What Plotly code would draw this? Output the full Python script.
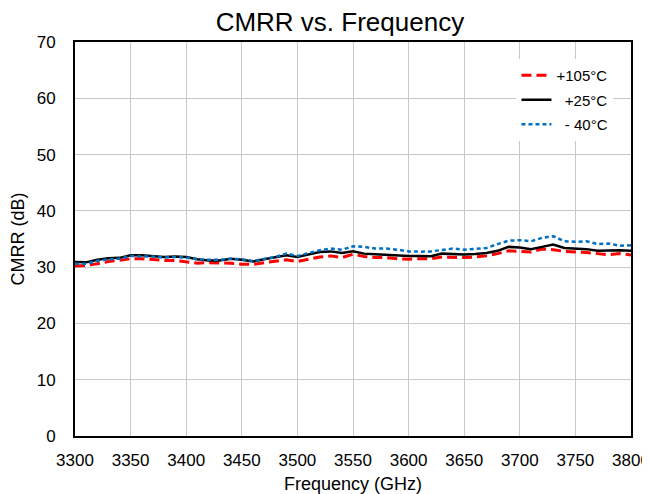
import plotly.graph_objects as go

freq = list(range(3300, 3801, 10))

cmrr_105 = [30.2, 30.3, 30.6, 31.0, 31.2, 31.5, 31.5, 31.3, 31.2, 31.2,
            31.0, 30.7, 30.8, 30.8, 30.7, 30.5, 30.5, 30.8, 31.1, 31.3,
            31.0, 31.4, 31.8, 32.0, 31.7, 32.3, 31.9, 31.7, 31.7, 31.5,
            31.4, 31.5, 31.5, 31.8, 31.7, 31.7, 31.8, 32.0, 32.4, 32.9,
            32.8, 32.7, 33.2, 33.1, 32.8, 32.75, 32.6, 32.4, 32.2, 32.4,
            32.15]
cmrr_25 = [30.9, 30.85, 31.3, 31.6, 31.65, 32.1, 32.1, 32.0, 31.8, 31.9,
           31.8, 31.4, 31.2, 31.2, 31.5, 31.3, 31.0, 31.4, 31.7, 32.1,
           31.8, 32.3, 32.7, 32.8, 32.5, 32.8, 32.4, 32.3, 32.2, 32.0,
           32.0, 32.0, 31.95, 32.4, 32.3, 32.25, 32.35, 32.5, 32.9, 33.6,
           33.5, 33.2, 33.6, 34.0, 33.4, 33.3, 33.2, 32.9, 33.0, 33.0,
           32.9]
cmrr_m40 = [30.6, 30.6, 31.1, 31.4, 31.5, 32.0, 31.9, 31.9, 31.7, 31.8,
            31.7, 31.4, 31.3, 31.3, 31.5, 31.4, 31.1, 31.5, 31.8, 32.4,
            32.0, 32.5, 33.0, 33.3, 33.1, 33.7, 33.6, 33.3, 33.3, 33.1,
            32.8, 32.75, 32.8, 33.05, 33.3, 33.1, 33.2, 33.4, 34.1, 34.7,
            34.8, 34.6, 35.2, 35.5, 34.6, 34.5, 34.6, 34.1, 34.2, 33.8,
            33.9]

x_ticks = list(range(3300, 3801, 50))
y_ticks = list(range(0, 71, 10))

FONT = "Liberation Sans, Arial, sans-serif"

fig = go.Figure()
fig.add_trace(go.Scatter(x=freq, y=cmrr_105, mode="lines", name="+105°C",
                         legendgroup="a",
                         line=dict(color="#ff0000", width=3, dash="10px,5px")))
fig.add_trace(go.Scatter(x=freq, y=cmrr_25, mode="lines", name="&nbsp;&nbsp;+25°C",
                         legendgroup="b",
                         line=dict(color="#000000", width=2.5)))
fig.add_trace(go.Scatter(x=freq, y=cmrr_m40, mode="lines", name="&nbsp;&nbsp;- 40°C",
                         legendgroup="c",
                         line=dict(color="#0070c0", width=2.5, dash="4px,3px")))

# The page body adds an 8px margin, so the figure is 8px smaller and shifted.
fig.update_layout(
    width=642, height=486,
    margin=dict(l=67, r=19, t=34, b=58, autoexpand=False),
    paper_bgcolor="white", plot_bgcolor="white",
    font=dict(family=FONT, color="#000000"),
    title=dict(text="CMRR vs. Frequency", x=0.517, xanchor="center", xref="container",
               y=0.971, yanchor="middle", yref="container", font=dict(size=26),
               automargin=False),
    showlegend=True,
    legend=dict(x=0.794, y=0.957, xanchor="left", yanchor="top",
                bgcolor="white", borderwidth=0, font=dict(size=15),
                itemwidth=30, tracegroupgap=2),
    xaxis=dict(range=[3300, 3800], tickvals=x_ticks, ticktext=[str(v) for v in x_ticks],
               showgrid=True, gridcolor="#c8c8c8", gridwidth=1,
               showline=True, linecolor="black", linewidth=2, mirror=True,
               ticks="", tickfont=dict(size=17), ticklabelstandoff=8,
               zeroline=False, automargin=False,
               title=dict(text="Frequency (GHz)", font=dict(size=18), standoff=10)),
    yaxis=dict(range=[0, 70], tickvals=y_ticks,
               showgrid=True, gridcolor="#c8c8c8", gridwidth=1,
               showline=True, linecolor="black", linewidth=2, mirror=True,
               ticks="", tickfont=dict(size=17), ticklabelstandoff=14,
               zeroline=False, automargin=False,
               title=dict(text="CMRR (dB)", font=dict(size=18), standoff=19)),
)

fig.write_html("out.html")
